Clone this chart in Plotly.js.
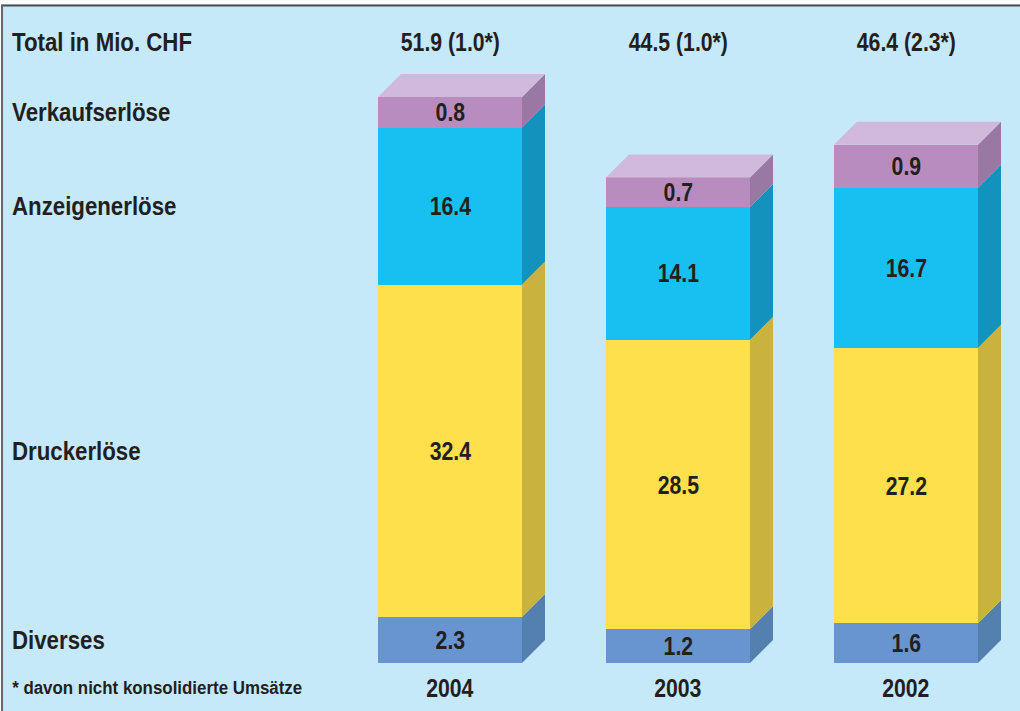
<!DOCTYPE html>
<html>
<head>
<meta charset="utf-8">
<script src="https://cdn.plot.ly/plotly-3.0.1.min.js"></script>
<style>html,body{margin:0;padding:0;background:#fff;}#chart{width:1020px;height:711px;}</style>
</head>
<body>
<div id="chart"></div>
<script>
// ---- data ----
const years = ["2004", "2003", "2002"];
const totalLabels = ["51.9 (1.0*)", "44.5 (1.0*)", "46.4 (2.3*)"];
const seriesNames = ["Diverses", "Druckerlöse", "Anzeigenerlöse", "Verkaufserlöse"];
// labelled values (Mio. CHF)
const diverses = [2.3, 1.2, 1.6];
const druckerloese = [32.4, 28.5, 27.2];
const anzeigenerloese = [16.4, 14.1, 16.7];
const verkaufserloese = [0.8, 0.7, 0.9];
// segment heights as drawn in the reference (small segments are drawn enlarged there)
const drawnDiverses = [4.5, 3.3, 3.9];
const drawnDruckerloese = [32.6, 28.4, 27.0];
const drawnAnzeigenerloese = [15.4, 13.0, 15.7];
const drawnVerkaufserloese = [3.0, 2.9, 4.2];
const totalTitle = "Total in Mio. CHF";
const footnote = "* davon nicht konsolidierte Umsätze";

// ---- styles ----
const FONT = "'Liberation Sans', Arial, Helvetica, sans-serif";
const TXT = "#231f20";
const BG = "#c6e9f9";
const frontColors = ["#6895cf", "#fedf4c", "#17c0f0", "#b98cc0"];
const sideColors = ["#5480b0", "#c9b23e", "#1292bd", "#9a78a4"];
const topColor = "#d0b9da";
const WORD_SQUEEZE = 0.89;   // condensed look of the original typeface
const NUM_SQUEEZE = 0.85;

const values = [diverses, druckerloese, anzeigenerloese, verkaufserloese];
const drawn = [drawnDiverses, drawnDruckerloese, drawnAnzeigenerloese, drawnVerkaufserloese];

const xIdx = years.map((_, i) => i);
const BAR_W = 0.6316;
const DX = 0.1009;  // depth offset in x units
const DY = 2.255;   // depth offset in y units

const traces = [];
// front faces
for (let s = 0; s < 4; s++) {
  traces.push({
    type: "bar", x: xIdx, y: drawn[s], width: BAR_W, name: seriesNames[s],
    marker: {color: frontColors[s], line: {width: 0}},
    hoverinfo: "skip", showlegend: false
  });
}
// side faces and top faces
for (let i = 0; i < years.length; i++) {
  let base = 0;
  const xr = xIdx[i] + BAR_W / 2, xl = xIdx[i] - BAR_W / 2;
  for (let s = 0; s < 4; s++) {
    const h = drawn[s][i];
    const y0 = base, y1 = base + h;
    traces.push({
      type: "scatter", mode: "lines", fill: "toself",
      x: [xr, xr + DX, xr + DX, xr, xr],
      y: [y0, y0 + DY, y1 + DY, y1, y0],
      fillcolor: sideColors[s], line: {width: 0}, hoverinfo: "skip", showlegend: false
    });
    base = y1;
  }
  traces.push({
    type: "scatter", mode: "lines", fill: "toself",
    x: [xl, xl + DX, xr + DX, xr, xl],
    y: [base, base + DY, base + DY, base, base],
    fillcolor: topColor, line: {width: 0}, hoverinfo: "skip", showlegend: false
  });
}

const annotations = [];
const squeeze = [];
const lab = (text, x, y, xref, yref, xanchor, size) => {
  squeeze.push(/^[0-9]/.test(text) ? NUM_SQUEEZE : WORD_SQUEEZE);
  return {
    text, x, y, xref, yref, xanchor, yanchor: "middle", showarrow: false,
    font: {family: FONT, size: size, color: TXT, weight: "bold"}
  };
};
annotations.push(lab(totalTitle, 0.0098, 0.9367, "paper", "paper", "left", 25));
years.forEach((yr, i) => {
  annotations.push(lab(totalLabels[i], xIdx[i], 0.9367, "x", "paper", "center", 25));
  annotations.push(lab(yr, xIdx[i], -0.0377, "x", "paper", "center", 25));
});
// value labels in the middle of each front face
for (let i = 0; i < years.length; i++) {
  let base = 0;
  for (let s = 0; s < 4; s++) {
    const mid = base + drawn[s][i] / 2;
    annotations.push(lab(values[s][i].toFixed(1), xIdx[i], mid, "x", "y", "center", 25));
    base += drawn[s][i];
  }
}
// row labels aligned with the first bar's segments
let cum = 0;
for (let s = 0; s < 4; s++) {
  const mid = cum + drawn[s][0] / 2;
  annotations.push(lab(seriesNames[s], 0.0098, mid, "paper", "y", "left", 25));
  cum += drawn[s][0];
}
annotations.push(lab(footnote, 0.0098, -0.0377, "paper", "paper", "left", 19));

const layout = {
  width: 1020, height: 711,
  margin: {l: 0, r: 0, t: 0, b: 48, pad: 0},
  paper_bgcolor: BG, plot_bgcolor: "rgba(0,0,0,0)",
  barmode: "stack", bargap: 0,
  showlegend: false,
  xaxis: {range: [-1.9737, 2.5], visible: false, fixedrange: true},
  yaxis: {range: [0, 65], visible: false, fixedrange: true},
  annotations,
  shapes: [
    {type: "rect", xref: "paper", yref: "paper", x0: 0, x1: 1, y0: 1, y1: 0.9940, fillcolor: "#ffffff", line: {width: 0}, layer: "below"},
    {type: "rect", xref: "paper", yref: "paper", x0: 0, x1: 0.001, y0: -0.08, y1: 1, fillcolor: "#ffffff", line: {width: 0}, layer: "below"},
    {type: "line", xref: "paper", yref: "paper", x0: 0.001, x1: 1, y0: 0.9917, y1: 0.9917, line: {color: "#4d4d4d", width: 2}},
    {type: "line", xref: "paper", yref: "paper", x0: 0.002, x1: 0.002, y0: -0.08, y1: 0.9917, line: {color: "#666666", width: 2}}
  ]
};

Plotly.newPlot("chart", traces, layout, {displayModeBar: false, staticPlot: true}).then(gd => {
  // horizontally condense the label text to imitate the condensed original typeface
  gd.querySelectorAll("g.annotation").forEach(g => {
    const idx = +g.getAttribute("data-index");
    const t = g.querySelector("text.annotation-text");
    if (!t || isNaN(idx)) return;
    const bb = t.getBBox();
    const cx = annotations[idx].xanchor === "left" ? bb.x : bb.x + bb.width / 2;
    const s = squeeze[idx];
    t.setAttribute("transform", `translate(${cx},0) scale(${s},1) translate(${-cx},0)`);
  });
});
</script>
</body>
</html>
